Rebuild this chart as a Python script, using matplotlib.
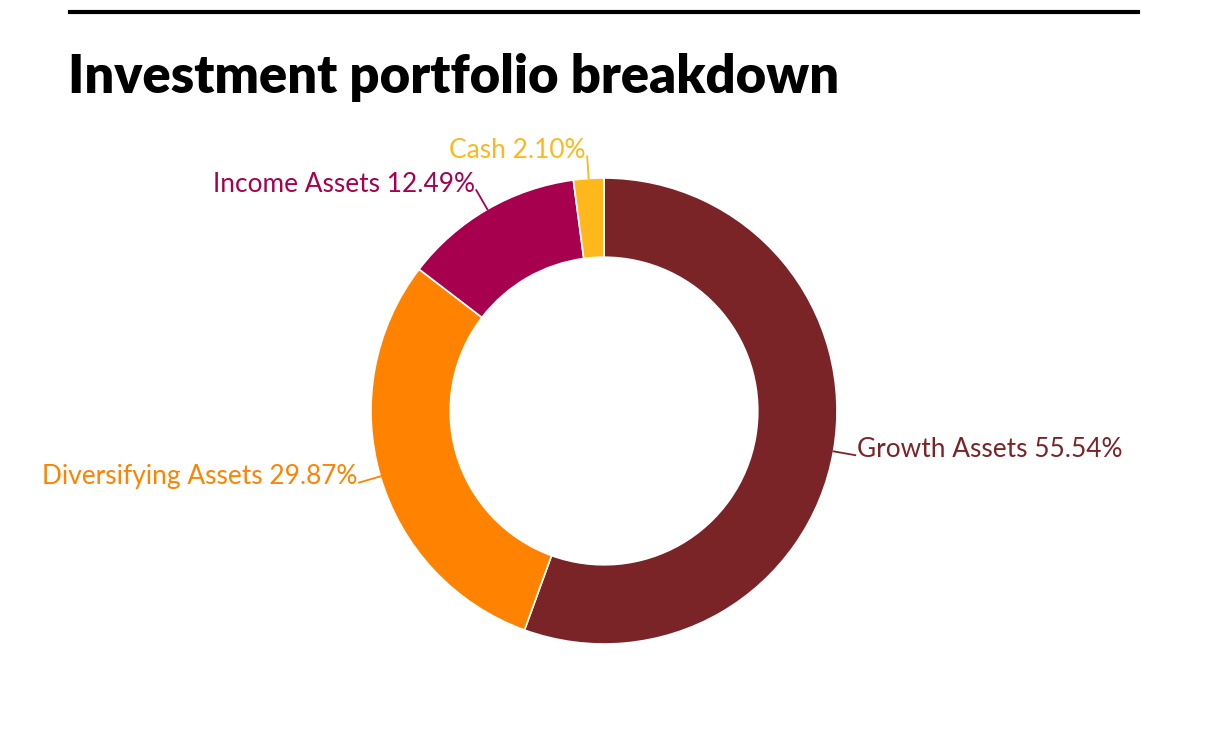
import numpy as np
import matplotlib
matplotlib.use("Agg")
import matplotlib.pyplot as plt
from matplotlib.lines import Line2D

# data
categories = ["Growth Assets", "Diversifying Assets", "Income Assets", "Cash"]
shares = [55.54, 29.87, 12.49, 2.10]
colors = ["#7B2428", "#FF8200", "#A6004F", "#FFB81C"]

W, H = 1230, 734
fig = plt.figure(figsize=(W / 100, H / 100), dpi=100)
fig.patch.set_facecolor("white")

# donut centre and radius in pixels
cx, cy, r_px = 604, 411, 233
ax = fig.add_axes([0, 0, 1, 1])

wedges, _ = ax.pie(shares, colors=colors, startangle=90, counterclock=False,
                   radius=1.0, wedgeprops=dict(width=0.34, edgecolor="white", linewidth=1.2))

# pie() resets the limits, so set them afterwards
ax.set_xlim(-cx / r_px, (W - cx) / r_px)
ax.set_ylim(-(H - cy) / r_px, cy / r_px)
ax.set_aspect("equal")
ax.axis("off")

# labels with short connectors
for w, name, val, col in zip(wedges, categories, shares, colors):
    ang = np.deg2rad((w.theta1 + w.theta2) / 2)
    x0, y0 = np.cos(ang), np.sin(ang)
    x1, y1 = 1.095 * x0, 1.095 * y0
    ax.plot([x0, x1], [y0, y1], color=col, lw=1.3, clip_on=False)
    ha = "left" if x0 > 0 else "right"
    ax.text(x1 + (0.006 if x0 > 0 else -0.006), y1 - 0.006, f"{name} {val:.2f}%",
            color=col, ha=ha, va="baseline", fontsize=18.9,
            family="Lato", weight="normal")

# title and top rule
fig.add_artist(Line2D([70 / W, 1138 / W], [1 - 11.5 / H, 1 - 11.5 / H],
                      color="black", lw=3))
fig.text(68 / W, 1 - 93 / H, "Investment portfolio breakdown", fontsize=37.8,
         family="Lato", weight="heavy", color="black", ha="left", va="baseline")

fig.savefig("out.png", dpi=100)
